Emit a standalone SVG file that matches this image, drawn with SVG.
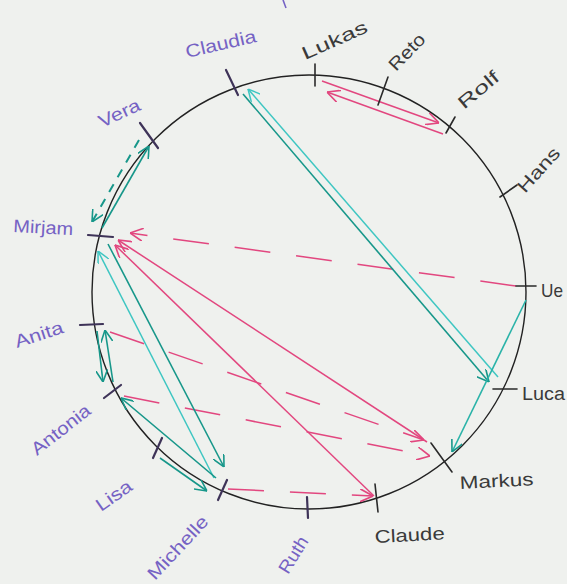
<svg xmlns="http://www.w3.org/2000/svg" width="567" height="584" viewBox="0 0 567 584">
<style>
.lbl{font-family:"Liberation Sans","DejaVu Sans",sans-serif;font-size:18px;}
.f{fill:#7562c4;}
.m{fill:#3a3a3a;}
.tf{stroke:#3e3358;stroke-width:2.2;stroke-linecap:round;fill:none;}
.tm{stroke:#2a2a2a;stroke-width:1.6;stroke-linecap:round;fill:none;}
.pk{stroke:#e2477f;stroke-width:1.5;fill:none;marker-end:url(#hp);}
.pd{stroke-dasharray:36 26;}
.tl{stroke:#17978a;stroke-width:1.6;fill:none;marker-end:url(#ht);}
.cy{stroke:#3ec6c2;stroke-width:1.5;fill:none;marker-end:url(#hc);}
.td{stroke-dasharray:9 8;stroke-width:2;}
</style>
<defs>
<marker id="hp" viewBox="0 0 12 12" refX="12" refY="6" markerWidth="13" markerHeight="13" markerUnits="userSpaceOnUse" orient="auto"><path d="M0,0 L12,6 L0,12" fill="none" stroke="#e2477f" stroke-width="1.5"/></marker>
<marker id="ht" viewBox="0 0 12 12" refX="12" refY="6" markerWidth="12" markerHeight="12" markerUnits="userSpaceOnUse" orient="auto"><path d="M0,0 L12,6 L0,12" fill="none" stroke="#17978a" stroke-width="1.6"/></marker>
<marker id="hc" viewBox="0 0 12 12" refX="12" refY="6" markerWidth="12" markerHeight="12" markerUnits="userSpaceOnUse" orient="auto"><path d="M0,0 L12,6 L0,12" fill="none" stroke="#3ec6c2" stroke-width="1.5"/></marker>
</defs>
<rect width="567" height="584" fill="#eff1ee"/>
<path d="M283,0 L286,8" stroke="#7562c4" stroke-width="1.6" fill="none"/>
<circle cx="309" cy="292" r="217" fill="none" stroke="#222" stroke-width="1.4"/>

<g id="connectors">
<path class="pk" d="M322,81 L439,123"/>
<path class="pk" d="M443,134 L327,92"/>
<path class="pk pd" d="M516,286 L130,233"/>
<path class="pk" d="M427,442 L118,240"/>
<path class="pk" d="M374,496 L115,245"/>
<path class="pk pd" d="M110,332 L424,440"/>
<path class="pk pd" d="M124,396 L430,456"/>
<path class="pk pd" d="M228,489 L373,496"/>
<path class="tl" d="M243,94 L489,382"/>
<path class="cy" d="M498,377 L248,89"/>
<path class="tl" style="stroke:#2ab3a8" d="M526,300 L452,452"/>
<path class="tl" d="M102,228 L149,146"/>
<path class="tl td" d="M139,140 L92,222"/>
<path class="cy" d="M214,478 L98,251"/>
<path class="tl" d="M108,244 L224,467"/>
<path class="tl" d="M97,331 L103,382"/>
<path class="tl" d="M113,382 L105,330"/>
<path class="tl" d="M216,478 L121,398"/>
<path class="tl" d="M160,458 L207,491"/>
</g>

<g id="claudia"><path class="tf" d="M226,70 L238,95"/><text class="lbl f" transform="translate(187,58) rotate(-13)" textLength="72" lengthAdjust="spacingAndGlyphs">Claudia</text></g>
<g id="lukas"><path class="tm" d="M315,64 L315,86"/><text class="lbl m" transform="translate(305,60) rotate(-24)" textLength="70" lengthAdjust="spacingAndGlyphs">Lukas</text></g>
<g id="reto"><path class="tm" d="M388,77 L378,105"/><text class="lbl m" transform="translate(396,72) rotate(-46)" textLength="44" lengthAdjust="spacingAndGlyphs">Reto</text></g>
<g id="rolf"><path class="tm" d="M455,117 L446,133"/><text class="lbl m" transform="translate(464,110) rotate(-40)" textLength="48" lengthAdjust="spacingAndGlyphs">Rolf</text></g>
<g id="hans"><path class="tm" d="M500,197 L517,185"/><text class="lbl m" transform="translate(525,194) rotate(-48)" textLength="54" lengthAdjust="spacingAndGlyphs">Hans</text></g>
<g id="ueli"><path class="tm" d="M516,286 L536,286"/><text class="lbl m" x="541" y="297" style="font-size:19px" textLength="22" lengthAdjust="spacingAndGlyphs">Ue</text></g>
<g id="luca"><path class="tm" d="M493,389 L517,389"/><text class="lbl m" x="522" y="400" textLength="43" lengthAdjust="spacingAndGlyphs">Luca</text></g>
<g id="markus"><path class="tm" d="M431,443 L452,472"/><text class="lbl m" transform="translate(460,489) rotate(-3)" textLength="74" lengthAdjust="spacingAndGlyphs">Markus</text></g>
<g id="claude"><path class="tm" d="M375,484 L378,512"/><text class="lbl m" transform="translate(375,543) rotate(-3)" textLength="70" lengthAdjust="spacingAndGlyphs">Claude</text></g>
<g id="ruth"><path class="tf" d="M307,497 L308,518"/><text class="lbl f" transform="translate(288,575) rotate(-58)" textLength="40" lengthAdjust="spacingAndGlyphs">Ruth</text></g>
<g id="michelle"><path class="tf" d="M218,500 L227,480"/><text class="lbl f" transform="translate(155,581) rotate(-47)" textLength="80" lengthAdjust="spacingAndGlyphs">Michelle</text></g>
<g id="lisa"><path class="tf" d="M153,458 L162,438"/><text class="lbl f" transform="translate(101,512) rotate(-35)" textLength="40" lengthAdjust="spacingAndGlyphs">Lisa</text></g>
<g id="antonia"><path class="tf" d="M104,398 L121,385"/><text class="lbl f" transform="translate(37,456) rotate(-38)" textLength="70" lengthAdjust="spacingAndGlyphs">Antonia</text></g>
<g id="anita"><path class="tf" d="M80,325 L103,324"/><text class="lbl f" transform="translate(17,348) rotate(-18)" textLength="50" lengthAdjust="spacingAndGlyphs">Anita</text></g>
<g id="mirjam"><path class="tf" d="M88,235 L113,237"/><text class="lbl f" transform="translate(13,232) rotate(3)" textLength="60" lengthAdjust="spacingAndGlyphs">Mirjam</text></g>
<g id="vera"><path class="tf" d="M140,123 L158,148"/><text class="lbl f" transform="translate(102,128) rotate(-25)" textLength="44" lengthAdjust="spacingAndGlyphs">Vera</text></g>
</svg>
